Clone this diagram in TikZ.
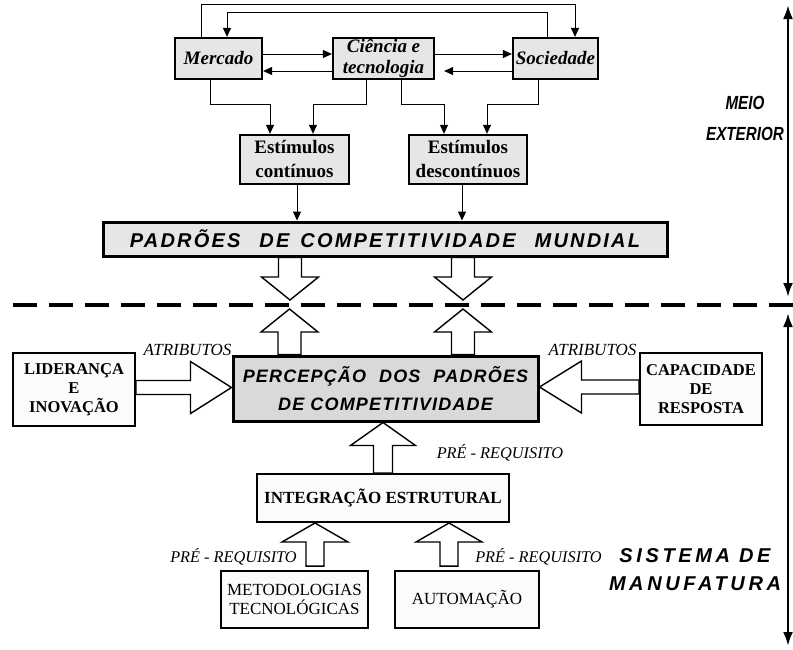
\documentclass[tikz,border=0pt]{standalone}
\usepackage{fontspec}
\setmainfont{Liberation Serif}
\newfontfamily\arialf{Liberation Sans}
\newfontfamily\arialls{Liberation Sans}[LetterSpace=6.5]
\newfontfamily\arialpad{Liberation Sans}[LetterSpace=11]
\newfontfamily\arialsw{Liberation Sans}[LetterSpace=18]
\usetikzlibrary{arrows.meta,calc}
\definecolor{boxgray}{RGB}{230,230,230}
\definecolor{percgray}{RGB}{217,217,217}
\definecolor{boxwhite}{RGB}{251,251,251}
% hollow block arrow: #1 base, #2 tip, #3 shaft half width, #4 head half width, #5 head length
\newcommand{\harrow}[5]{%
  \path (#2) coordinate (ht) ($(#2)!#5!(#1)$) coordinate (hb) (#1) coordinate (hs);
  \draw[hollow] ($(hs)!#3!90:(ht)$) -- ($(hb)!#3!90:(ht)$) -- ($(hb)!#4!90:(ht)$) -- (ht)
     -- ($(hb)!#4!-90:(ht)$) -- ($(hb)!#3!-90:(ht)$) -- ($(hs)!#3!-90:(ht)$) -- cycle;}
\newcommand{\narrowtxt}[1]{\scalebox{0.8}[1]{#1}}
\begin{document}
\begin{tikzpicture}[x=1pt,y=-1pt,
  box/.style={draw, inner sep=0pt, align=center},
  topbox/.style={box, fill=boxgray, line width=2.2pt,
     font={\fontsize{19}{21}\selectfont\bfseries\itshape}},
  stimbox/.style={box, fill=boxgray, line width=2.3pt,
     font={\fontsize{19}{24}\selectfont\bfseries}},
  lowbox/.style={box, fill=boxwhite, line width=1.7pt},
  conn/.style={line width=1pt, -{Triangle[length=9pt,width=8pt]}},
  hollow/.style={draw, fill=white, line width=1.4pt, line join=miter},
  axisarr/.style={line width=2.5pt, {Latex[length=14pt,width=10pt]}-{Latex[length=14pt,width=10pt]}},
  lbl/.style={inner sep=0pt, font={\fontsize{16.3}{18}\selectfont\itshape}},
  sidelbl/.style={inner sep=0pt, align=center,
     font={\fontsize{20}{28}\selectfont\arialsw\bfseries\itshape}}
]
\useasboundingbox (0,0) rectangle (793,649);

% ---------- top boxes ----------
\node[topbox, minimum width=87pt, minimum height=41pt] (merc) at (218.5,58.5) {Mercado};
\node[topbox, minimum width=101pt, minimum height=41pt] (cien) at (383.5,58.5) {Ciência e\\tecnologia};
\node[topbox, minimum width=85pt, minimum height=41pt] (soc) at (555.5,58.5) {Sociedade};

\node[stimbox, minimum width=109pt, minimum height=49pt] (e1) at (294.5,159.5) {Estímulos\\contínuos};
\node[stimbox, minimum width=118pt, minimum height=49pt] (e2) at (468,159.5) {Estímulos\\descontínuos};

\node[box, fill=boxgray, line width=3pt, minimum width=564pt, minimum height=34pt,
      font={\fontsize{20}{24}\selectfont\arialpad\bfseries\itshape}] (padr) at (385,239)
      {PADRÕES\hspace{19pt}DE\hspace{11pt}COMPETITIVIDADE\hspace{19pt}MUNDIAL};

% ---------- top connectors ----------
\draw[conn] ([xshift=-17.5pt]merc.north) -- ++(0,-32) -| ([xshift=19.5pt]soc.north);
\draw[conn] ([xshift=-8.5pt]soc.north) -- ++(0,-24) -| ([xshift=8.5pt]merc.north);
\draw[conn] ([yshift=4.5pt]merc.east) -- ([yshift=4.5pt]cien.west);
\draw[conn] ([yshift=-12.5pt]cien.west) -- ([yshift=-12.5pt]merc.east);
\draw[conn] ([yshift=4.5pt]cien.east) -- ([yshift=4.5pt]soc.west);
\draw[conn, shorten >=9pt] ([yshift=-12.5pt]soc.west) -- ([yshift=-12.5pt]cien.east);

\draw[conn] ([xshift=-8.5pt]merc.south) -- ++(0,24) -| ([xshift=-24.5pt]e1.north);
\draw[conn] ([xshift=-17.5pt]cien.south) -- ++(0,24) -| ([xshift=18.5pt]e1.north);
\draw[conn] ([xshift=17.5pt]cien.south) -- ++(0,24) -| ([xshift=-24pt]e2.north);
\draw[conn] ([xshift=-17.5pt]soc.south) -- ++(0,24) -| ([xshift=19pt]e2.north);

\draw[conn] ([xshift=2.5pt]e1.south) -- ([xshift=2.5pt]e1.south |- padr.north);
\draw[conn] ([xshift=-6pt]e2.south) -- ([xshift=-6pt]e2.south |- padr.north);

% ---------- divider and side axis ----------
\coordinate (dl) at (13,305);
\coordinate (dr) at (793,305);
\draw[line width=4pt, dash pattern=on 24pt off 12pt] (dl) -- (dr);
\coordinate (d1) at (290,300);
\coordinate (d2) at (463,300);
\coordinate (u1) at (289.5,309);
\coordinate (u2) at (463,309);

\coordinate (axa) at (788,5);
\coordinate (axb) at (788,297);
\coordinate (axc) at (788,313);
\coordinate (axd) at (788,646);
\draw[axisarr] (axa) -- (axb);
\draw[axisarr] (axc) -- (axd);

\node[sidelbl, font={\fontsize{19}{31}\selectfont\arialf\bfseries\itshape}] (meio) at (745,118)
   {\narrowtxt{MEIO}\\\narrowtxt{EXTERIOR}};
\node[sidelbl] (sist) at (695,570) {SISTEMA DE\\MANUFATURA};

% ---------- lower part ----------
\node[box, fill=percgray, line width=3pt, minimum width=305pt, minimum height=65pt,
      font={\fontsize{18}{28}\selectfont\arialls\bfseries\itshape}] (perc) at (385.5,388.5)
      {PERCEPÇÃO\hspace{13pt}DOS\hspace{13pt}PADRÕES\\DE COMPETITIVIDADE};

\node[lowbox, minimum width=122pt, minimum height=73pt,
      font={\fontsize{16.5}{19}\selectfont\bfseries}] (lid) at (74,389.5) {LIDERANÇA\\E\\INOVAÇÃO};
\node[lowbox, minimum width=122pt, minimum height=72pt,
      font={\fontsize{16.5}{19}\selectfont\bfseries}] (cap) at (701,389) {CAPACIDADE\\DE\\RESPOSTA};

\node[lowbox, line width=2pt, minimum width=252pt, minimum height=48pt,
      font={\fontsize{17}{20}\selectfont\bfseries}] (integ) at (383,498) {INTEGRAÇÃO ESTRUTURAL};

\node[lowbox, minimum width=147pt, minimum height=57pt,
      font={\fontsize{17}{19}\selectfont}] (met) at (294.5,599.5) {METODOLOGIAS\\TECNOLÓGICAS};
\node[lowbox, minimum width=144pt, minimum height=57pt,
      font={\fontsize{17}{19}\selectfont}] (auto) at (467,599.5) {AUTOMAÇÃO};

% ---------- block arrows ----------
\harrow{[xshift=-95pt]padr.south}{d1}{11.5pt}{28.5pt}{23pt}
\harrow{[xshift=78pt]padr.south}{d2}{11.5pt}{28.5pt}{23pt}
\harrow{[xshift=-96pt]perc.north}{u1}{11.5pt}{28.5pt}{23pt}
\harrow{[xshift=77.5pt]perc.north}{u2}{11.5pt}{28.5pt}{23pt}

\harrow{[yshift=2pt]lid.east}{[yshift=2pt]lid.east -| perc.west}{7pt}{26pt}{41pt}
\harrow{[yshift=2pt]cap.west}{[yshift=2pt]cap.west -| perc.east}{7pt}{26pt}{42pt}

\harrow{integ.north}{integ.north |- perc.south}{9.5pt}{32.5pt}{23pt}
\harrow{[xshift=20.5pt,yshift=4pt]met.north}{[xshift=20.5pt]met.north |- integ.south}{9pt}{33pt}{19pt}
\harrow{[xshift=-18pt,yshift=4pt]auto.north}{[xshift=-18pt]auto.north |- integ.south}{9pt}{33pt}{19pt}

% ---------- labels ----------
\node[lbl, font={\fontsize{17}{19}\selectfont\itshape}] (at1) at (187.5,350) {ATRIBUTOS};
\node[lbl, font={\fontsize{17}{19}\selectfont\itshape}] (at2) at (592.5,350) {ATRIBUTOS};
\node[lbl] (pr1) at (500,453) {PRÉ - REQUISITO};
\node[lbl] (pr2) at (233.5,557) {PRÉ - REQUISITO};
\node[lbl] (pr3) at (538.5,557) {PRÉ - REQUISITO};
\end{tikzpicture}
\end{document}
